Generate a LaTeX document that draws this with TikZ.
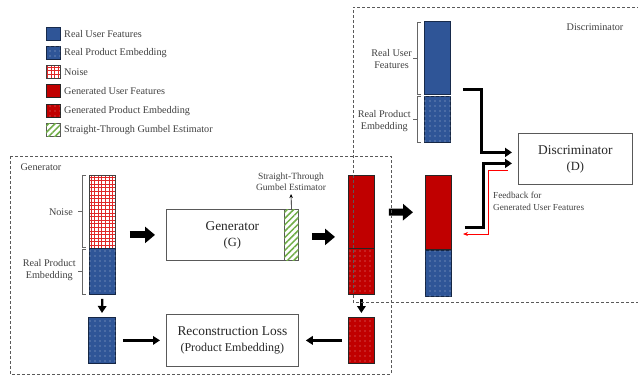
\documentclass[tikz,border=0pt]{standalone}
\usepackage{fontspec}
\setmainfont{Liberation Serif}
\usetikzlibrary{arrows.meta,patterns.meta,calc}
\definecolor{bblue}{HTML}{2F5597}
\definecolor{rred}{HTML}{C00000}
\definecolor{ggreen}{HTML}{70AD47}
\definecolor{txt}{HTML}{404040}
\definecolor{frame}{HTML}{595959}
\definecolor{nred}{HTML}{E02828}
\begin{document}
\begin{tikzpicture}[x=1pt,y=-1pt,
  lbl/.style={text=txt, inner sep=0pt, font=\fontsize{10.2}{12.5}\selectfont, align=center},
  colbox/.style={rectangle, inner sep=0pt, minimum width=26pt, anchor=north west, line width=0.8pt},
  realU/.style={colbox, fill=bblue, draw=bblue!50!black},
  realE/.style={colbox, fill=bblue, draw=bblue!45!black, postaction={pattern={Dots[distance=5pt,radius=0.6pt]}, pattern color=white!60!bblue}},
  genU/.style={colbox, fill=rred, draw=black!85},
  genE/.style={colbox, fill=rred, draw=black!85, postaction={pattern={Dots[distance=5pt,radius=0.6pt]}, pattern color=white!55!rred}},
  noisebox/.style={colbox, fill=white, draw=black!75,
    path picture={\foreach \k in {0,...,21}{
      \draw[nred, line width=0.8pt] ([xshift=\k*3.6pt+1.6pt]path picture bounding box.north west) -- ++(0,100);
      \draw[nred, line width=0.8pt] ([yshift=-\k*3.6pt-1.6pt]path picture bounding box.north west) -- ++(30,0);}}},
  stebox/.style={rectangle, inner sep=0pt, fill=white, draw=frame, line width=0.8pt, postaction={pattern={Lines[angle=45,distance=4.5pt,line width=1.5pt]}, pattern color=ggreen}},
  legbox/.style={minimum width=14pt, minimum height=13pt, anchor=center},
  legtxt/.style={lbl, anchor=west},
  bigbox/.style={rectangle, draw=frame, line width=0.8pt, fill=white, anchor=north west, inner sep=0pt, align=center, text=black!85, font=\fontsize{13.4}{17}\selectfont},
  frm/.style={draw=frame, dashed, dash pattern=on 3pt off 2pt, line width=0.8pt},
  brk/.style={draw=txt!80, line width=0.6pt},
  fat/.style={line width=7pt, -{Triangle[length=10pt,width=16pt]}},
  thk/.style={line width=3pt, -{Triangle[length=7pt,width=9pt]}},
  med/.style={line width=2.3pt, -{Triangle[length=7pt,width=8.5pt]}},
  thin/.style={line width=0.6pt, -{Stealth[length=4pt,width=3.5pt]}}
]
\useasboundingbox (0,0) rectangle (638,376);

% legend
\node[realU, legbox] (lg1) at (53,34) {};
\node[realE, legbox] (lg2) at (53,53) {};
\node[noisebox, legbox] (lg3) at (53,72) {};
\node[genU, legbox] (lg4) at (53,91) {};
\node[genE, legbox] (lg5) at (53,111) {};
\node[stebox, legbox] (lg6) at (53,130) {};
\node[legtxt] (lt1) at (64,34) {Real User Features};
\node[legtxt] (lt2) at (64,53) {Real Product Embedding};
\node[legtxt] (lt3) at (64,72) {Noise};
\node[legtxt] (lt4) at (64,91) {Generated User Features};
\node[legtxt] (lt5) at (64,111) {Generated Product Embedding};
\node[legtxt] (lt6) at (64,130) {Straight-Through Gumbel Estimator};

% generator side columns
\node[noisebox, minimum height=73pt] (noise) at (89,175) {};
\node[realE, minimum height=46pt] (remb) at (89,248) {};
\node[realE, minimum width=27pt, minimum height=46pt] (rembs) at (88,317) {};
\node[genU, minimum height=73pt] (gu) at (348,175) {};
\node[genE, minimum height=46pt] (ge) at (348,248) {};
\node[genE, minimum height=46pt] (ges) at (348,317) {};

% discriminator side columns
\node[genU, minimum height=74pt] (fu) at (425,175) {};
\node[realE, minimum height=46pt] (fe) at (425,250) {};
\node[realU, minimum height=73pt] (ru) at (424,21) {};
\node[realE, minimum height=46pt] (re) at (424,96) {};

% boxes
\node[bigbox, minimum width=132pt, minimum height=51pt] (gen) at (166,209) {Generator\\[-1pt]{\fontsize{12.5}{15}\selectfont (G)}};
\node[stebox, minimum width=14pt, minimum height=51pt, anchor=north east] (ste) at (gen.north east) {};
\node[bigbox, minimum width=132pt, minimum height=52pt] (rec) at (166,314) {Reconstruction Loss\\[-1pt]{\fontsize{12}{15}\selectfont (Product Embedding)}};
\node[bigbox, minimum width=114pt, minimum height=51pt] (disc) at (518,133) {Discriminator\\[-1pt]{\fontsize{12.5}{15}\selectfont (D)}};

% labels
\node[lbl] (glab) at (41,167) {Generator};
\node[lbl] (dlab) at (595,27) {Discriminator};
\node[lbl, anchor=east] (nlab) at (73,212) {Noise};
\node[lbl, anchor=east] (rplab) at (76,270) {Real Product\\Embedding};
\node[lbl, anchor=east] (rulab) at (412,59) {Real User\\Features};
\node[lbl, anchor=east] (rplab2) at (411,121) {Real Product\\Embedding};
\node[lbl, font=\fontsize{9.5}{11}\selectfont, inner sep=1pt] (stl) at (291,182) {Straight-Through\\Gumbel Estimator};
\node[lbl, anchor=west, align=left, font=\fontsize{9.2}{12}\selectfont] (fbl) at (493,201) {Feedback for\\Generated User Features};

% brackets
\draw[brk] (86,175) -- (82,175) -- (82,247) -- (86,247) (82,211) -- (78,211);
\draw[brk] (86,249) -- (82,249) -- (82,294) -- (86,294) (82,271) -- (78,271);
\draw[brk] (421,22) -- (417,22) -- (417,94) -- (421,94) (417,58) -- (413,58);
\draw[brk] (421,96) -- (417,96) -- (417,142) -- (421,142) (417,119) -- (413,119);

% connectors
\draw[fat, shorten <=14pt, shorten >=11pt] (gen.west -| noise.east) -- (gen.west);
\draw[fat, shorten <=13pt, shorten >=13pt] ([yshift=-2pt]gen.east) -- ([yshift=-2pt]gen.east -| gu.west);
\draw[fat, shorten <=14pt, shorten >=12pt] (gu.east) -- (fu.west);
\draw[thin, shorten >=2pt] (ste.north) -- (stl.south);
\draw[med, shorten <=4pt, shorten >=4pt] (remb.south) -- (rembs.north);
\draw[med, shorten <=4pt, shorten >=4pt] (ge.south) -- (ges.north);
\draw[med, shorten <=7pt, shorten >=6pt] (rembs.east |- rec.west) -- (rec.west);
\draw[med, shorten <=6pt, shorten >=7pt] (ges.west |- rec.east) -- (rec.east);

\coordinate (d1) at ([yshift=6.5pt]disc.west);
\coordinate (d2) at ([yshift=-4.5pt]disc.west);
\coordinate (s1) at ([xshift=12pt,yshift=5pt]ru.south east);
\coordinate (s2) at ([xshift=13pt,yshift=22pt]fu.south east);
\draw[thk, shorten >=6pt] (s1) -| ([xshift=-37pt]d1) -- (d1);
\draw[thk, shorten >=6pt] (s2) -| ([xshift=-35pt]d2) -- (d2);
\coordinate (f0) at ([xshift=-10pt,yshift=-11.5pt]disc.west);
\coordinate (f1) at (488,234);
\coordinate (f2) at (463,234);
\draw[red, line width=0.8pt, -{Stealth[length=5pt,width=4pt]}] (f0) -| (f1) -- (f2);

% dashed frames
\draw[frm] (10,156) rectangle (391,374);
\draw[frm] (640,7) -- (353,7) -- (353,302) -- (640,302);
\end{tikzpicture}
\end{document}
